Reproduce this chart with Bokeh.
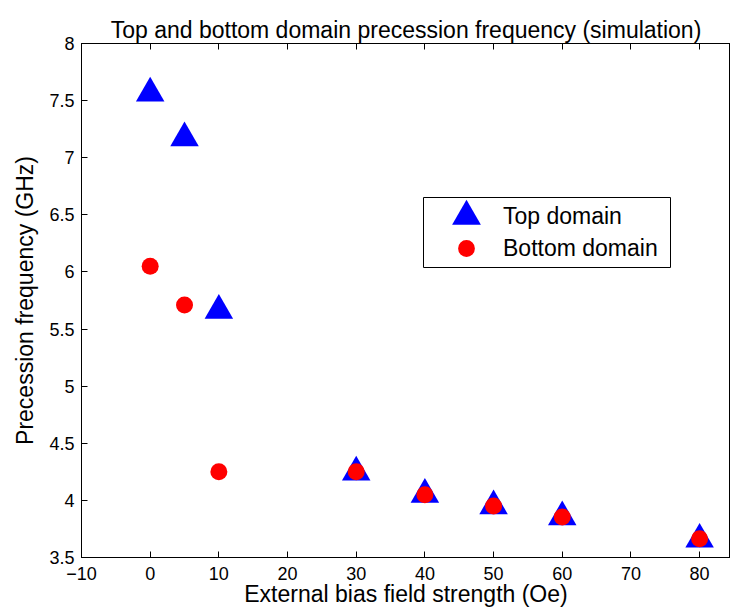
from bokeh.plotting import figure
from bokeh.models import (FixedTicker, LinearAxis, Legend, LegendItem,
                          BoxAnnotation, ColumnDataSource)
from bokeh.embed import file_html
from bokeh.resources import INLINE

# Simulated precession frequency of the two domains vs. applied bias field
field_oe = [0, 5, 10, 30, 40, 50, 60, 80]
top_freq_ghz = [7.565, 7.173, 5.662, 4.246, 4.051, 3.951, 3.855, 3.659]
bottom_freq_ghz = [6.05, 5.71, 4.25, 4.25, 4.05, 3.95, 3.855, 3.665]

x_ticks = [-10, 0, 10, 20, 30, 40, 50, 60, 70, 80]
x_tick_labels = ["\u221210", "0", "10", "20", "30", "40", "50", "60", "70", "80"]
y_ticks = [3.5, 4, 4.5, 5, 5.5, 6, 6.5, 7, 7.5, 8]
y_tick_labels = ["3.5", "4", "4.5", "5", "5.5", "6", "6.5", "7", "7.5", "8"]

FONT = "Liberation Sans"

p = figure(width=730, height=615, x_range=(-10, 84.5), y_range=(3.5, 8),
           output_backend="svg", toolbar_location=None,
           min_border_left=81, min_border_right=0,
           min_border_top=43, min_border_bottom=58)

p.title.text = "Top and bottom domain precession frequency (simulation)"
p.title.text_font = FONT
p.title.text_font_size = "23px"
p.title.text_font_style = "normal"
p.title.text_color = "black"
p.title.align = "center"
p.title.standoff = 2
p.title.offset = 0

p.xgrid.visible = False
p.ygrid.visible = False
p.outline_line_color = "black"
p.background_fill_color = "white"
p.border_fill_color = "white"

# bottom and left axes, MATLAB style ticks pointing inwards
p.xaxis.ticker = FixedTicker(ticks=x_ticks)
p.xaxis.major_label_overrides = dict(zip(x_ticks, x_tick_labels))
p.yaxis.ticker = FixedTicker(ticks=y_ticks)
p.yaxis.major_label_overrides = dict(zip(y_ticks, y_tick_labels))

for ax in (p.xaxis[0], p.yaxis[0]):
    ax.major_tick_in = 6
    ax.major_tick_out = 0
    ax.minor_tick_line_color = None
    ax.axis_line_color = "black"
    ax.major_tick_line_color = "black"
    ax.major_label_text_font = FONT
    ax.major_label_text_font_size = "18px"
    ax.major_label_text_color = "black"
    ax.axis_label_text_font = FONT
    ax.axis_label_text_font_size = "23px"
    ax.axis_label_text_font_style = "normal"
    ax.axis_label_text_color = "black"

p.xaxis.axis_label = "External bias field strength (Oe)"
p.yaxis.axis_label = "Precession frequency (GHz)"
p.xaxis.major_label_standoff = 9
p.xaxis.axis_label_standoff = -2
p.yaxis.major_label_standoff = 7
p.yaxis.axis_label_standoff = 8

# top axis: tick marks only, no labels
top_axis = LinearAxis(ticker=FixedTicker(ticks=x_ticks),
                      major_tick_in=6, major_tick_out=0,
                      minor_tick_line_color=None,
                      major_label_overrides={t: "" for t in x_ticks},
                      major_label_text_font_size="1px",
                      major_label_standoff=0,
                      axis_line_color="black",
                      major_tick_line_color="black")
p.add_layout(top_axis, "above")

src = ColumnDataSource(dict(x=field_oe, top=top_freq_ghz, bottom=bottom_freq_ghz))

r_top = p.scatter("x", "top", source=src, marker="triangle", size=28.5,
                  fill_color="#0000ff", line_color=None)
r_bot = p.scatter("x", "bottom", source=src, marker="circle", size=17,
                  fill_color="#ff0000", line_color=None)

# legend frame plus one legend per entry so each swatch keeps its own size
frame_box = BoxAnnotation(left=342, right=589, bottom=290, top=360,
                          left_units="screen", right_units="screen",
                          bottom_units="screen", top_units="screen",
                          fill_color="white", fill_alpha=1.0,
                          line_color="black", line_width=1, line_alpha=1.0)
p.add_layout(frame_box)

leg_top = Legend(items=[LegendItem(label="Top domain", renderers=[r_top])],
                 location=(349, 305), glyph_width=72, glyph_height=72,
                 label_standoff=1, padding=0, margin=0, spacing=0,
                 border_line_alpha=0, background_fill_alpha=0,
                 label_text_font=FONT, label_text_font_size="23px",
                 label_text_color="black")
leg_bot = Legend(items=[LegendItem(label="Bottom domain", renderers=[r_bot])],
                 location=(364, 288), glyph_width=42, glyph_height=42,
                 label_standoff=16, padding=0, margin=0, spacing=0,
                 border_line_alpha=0, background_fill_alpha=0,
                 label_text_font=FONT, label_text_font_size="23px",
                 label_text_color="black")
p.add_layout(leg_top)
p.add_layout(leg_bot)

open("out.html", "w").write(file_html(p, INLINE))
